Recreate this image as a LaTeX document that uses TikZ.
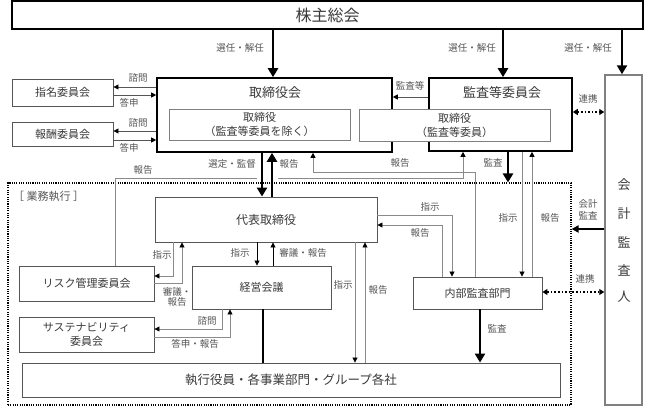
\documentclass[tikz,border=0pt]{standalone}
\usepackage{fontspec}
\setmainfont{Noto Sans CJK JP}
\usetikzlibrary{arrows.meta}
\definecolor{txt}{HTML}{3A3A3A}
\definecolor{lblc}{HTML}{555555}
\definecolor{boxc}{HTML}{555555}
\definecolor{inc}{HTML}{808080}
\definecolor{linec}{HTML}{8A8A8A}
\begin{document}
\begin{tikzpicture}[x=1pt,y=-1pt,
  box/.style={draw=boxc, line width=0.9pt, fill=white, inner sep=0pt, text=txt,
    font=\fontsize{11}{14}\selectfont, align=center},
  board/.style={box, draw=black, line width=1.6pt},
  inbox/.style={box, draw=inc, line width=0.8pt},
  lbl/.style={text=lblc, font=\fontsize{9.5}{11.5}\selectfont, inner sep=0pt, align=center},
  thin/.style={draw=linec, line width=0.8pt, -{Triangle[length=5pt,width=5pt,color=black]}},
  thk/.style={draw=black, line width=2.6pt, -{Triangle[length=9pt,width=10pt]}},
  dotarr/.style={draw=black, line width=1.6pt, dash pattern=on 1.6pt off 2pt,
    {Triangle[length=5pt,width=6pt]}-{Triangle[length=5pt,width=6pt]}}
]
\useasboundingbox[fill=white] (0,0) rectangle (645,407);

% frame
\node[draw=black, line width=1.1pt, dash pattern=on 1.1pt off 1.2pt, minimum width=563pt, minimum height=222pt, inner sep=0pt] (gy) at (289.5,294) {};
\node[lbl, font=\fontsize{11}{13}\selectfont, anchor=west] (lgy) at (13,196) {［ 業務執行 ］};

% boxes
\node[board, minimum width=631pt, minimum height=28pt, font=\fontsize{16}{18}\selectfont] (sh) at (327.5,15) {株主総会};
\node[board, minimum width=235pt, minimum height=74pt] (tb) at (274.5,115) {};
\node[board, minimum width=143pt, minimum height=73pt] (ak) at (500.5,114.5) {};
\node[text=txt, font=\fontsize{13}{15}\selectfont, inner sep=0pt] (tbt) at (275,93) {取締役会};
\node[text=txt, font=\fontsize{13}{15}\selectfont, inner sep=0pt] (akt) at (502,93) {監査等委員会};
\node[inbox, minimum width=181pt, minimum height=31pt] (tbin) at (259.5,124.5) {取締役\\（監査等委員を除く）};
\node[inbox, minimum width=191pt, minimum height=32pt] (akin) at (454.5,125) {取締役\\（監査等委員）};
\node[box, minimum width=101pt, minimum height=27pt] (sm) at (62.5,92.5) {指名委員会};
\node[box, minimum width=101pt, minimum height=24pt] (hs) at (62.5,134) {報酬委員会};
\node[box, draw=inc, line width=1.5pt, minimum width=37pt, minimum height=330pt] (kk) at (623.5,240) {};
\foreach \c/\yy [count=\i] in {会/185,計/214,監/242,査/270,人/297}
  \node[text=txt, font=\fontsize{13}{15}\selectfont, inner sep=0pt] (kkc\i) at (624,\yy) {\c};
\node[box, minimum width=222pt, minimum height=45pt, font=\fontsize{12}{14}\selectfont] (dh) at (266,219.5) {代表取締役};
\node[box, minimum width=129pt, minimum height=32pt] (ia) at (477.5,293) {内部監査部門};
\node[box, minimum width=139pt, minimum height=43pt] (km) at (261.5,287.5) {経営会議};
\node[box, minimum width=135pt, minimum height=35pt] (risk) at (86.5,283.5) {リスク管理委員会};
\node[box, minimum width=135pt, minimum height=35pt] (sus) at (86.5,334.5) {サステナビリティ\\委員会};
\node[box, minimum width=538pt, minimum height=34pt, font=\fontsize{12.5}{14}\selectfont] (ex) at (291,380) {執行役員・各事業部門・グループ各社};

% shareholders
\draw[thk] (sh.south -| 273,0) -- (tb.north -| 273,0);
\draw[thk] (sh.south -| 503,0) -- (ak.north -| 503,0);
\draw[thk] (sh.south -| 622,0) -- (kk.north -| 622,0);
\node[lbl] (l1) at (240,48) {選任・解任};
\node[lbl] (l2) at (472,48) {選任・解任};
\node[lbl] (l3) at (588,48) {選任・解任};

% committees
\draw[thin, draw=boxc] (tb.west |- 0,87) -- (sm.east |- 0,87);
\draw[thin, draw=boxc] (sm.east |- 0,95) -- (tb.west |- 0,95);
\draw[thin, draw=boxc] (tb.west |- 0,131) -- (hs.east |- 0,131);
\draw[thin, draw=boxc] (hs.east |- 0,140) -- (tb.west |- 0,140);
\node[lbl] (l4) at (138,78) {諮問};
\node[lbl] (l5) at (129,103) {答申};
\node[lbl] (l6) at (138,123) {諮問};
\node[lbl] (l7) at (129,148) {答申};

\draw[thin, draw=boxc] (ak.west |- 0,97) -- (tb.east |- 0,97);
\node[lbl] (l8) at (410,86) {監査等};

\draw[dotarr] (ak.east |- 0,112) -- (kk.west |- 0,112);
\node[lbl] (l9) at (588,99) {連携};

% report lines
\coordinate (g1) at (257,178);
\coordinate (g2) at (278,178);
\draw[draw=linec, line width=0.8pt] (risk.north -| 115,0) |- (g1);
\draw[thin] (g2) -| (ak.south -| 463,0);
\draw[thin] (ia.north -| 475,0) |- (313,172) -- (tb.south -| 313,0);
\node[lbl] (l10) at (143,170) {報告};
\node[lbl] (l11) at (400,163) {報告};

% board <-> representative
\draw[thk] (tb.south -| 262,0) -- (dh.north -| 262,0);
\draw[thk] (dh.north -| 272,0) -- (tb.south -| 272,0);
\node[lbl] (l12) at (232,164) {選定・監督};
\node[lbl] (l13) at (289,164) {報告};

% audit committee
\draw[thk] (ak.south -| 508,0) -- (gy.north -| 508,0);
\node[lbl] (l14) at (493,163) {監査};
\draw[thin] (ak.south -| 522,0) -- (ia.north -| 522,0);
\draw[thin] (ia.north -| 532,0) -- (ak.south -| 532,0);
\node[lbl] (l15) at (508,218) {指示};
\node[lbl] (l16) at (550,218) {報告};

% accounting auditor
\draw[thk, line width=2pt, -{Triangle[length=7pt,width=7pt]}] (kk.west |- 0,229) -- (gy.east |- 0,229);
\node[lbl] (l17) at (588,210) {会計\\監査};
\draw[dotarr] (ia.east |- 0,292) -- (kk.west |- 0,292);
\node[lbl] (l18) at (585,279) {連携};

% representative <-> internal audit
\draw[thin] (dh.east |- 0,215) -| (ia.north -| 452,0);
\draw[thin] (ia.north -| 442,0) |- (dh.east |- 0,225);
\node[lbl] (l19) at (430,207) {指示};
\node[lbl] (l20) at (420,233) {報告};

% representative <-> executives
\draw[thin] (dh.south -| 355,0) -- (ex.north -| 355,0);
\draw[thin] (ex.north -| 365,0) -- (dh.south -| 365,0);
\node[lbl] (l21) at (343,285) {指示};
\node[lbl] (l22) at (378,290) {報告};

% representative <-> management meeting
\draw[thin, draw=black] (dh.south -| 257,0) -- (km.north -| 257,0);
\draw[thin, draw=black] (km.north -| 273,0) -- (dh.south -| 273,0);
\node[lbl] (l23) at (240,253) {指示};
\node[lbl] (l24) at (303,253) {審議・報告};

% representative <-> risk
\draw[thin] (dh.south -| 173,0) |- (risk.east |- 0,276);
\draw[thin] (risk.east |- 0,283) -| (dh.south -| 182,0);
\node[lbl] (l25) at (162,255) {指示};
\node[lbl, font=\fontsize{9.5}{10.5}\selectfont] (l26) at (177,297) {審議・\\報告};

% management meeting <-> sustainability
\draw[thin] (km.south -| 222,0) |- (sus.east |- 0,329);
\draw[thin] (sus.east |- 0,337) -| (km.south -| 230,0);
\node[lbl] (l27) at (207,321) {諮問};
\node[lbl] (l28) at (195,344) {答申・報告};

% management meeting -- executives
\draw[draw=black, line width=2pt] (km.south -| 263,0) -- (ex.north -| 263,0);

% internal audit -> executives
\draw[thk] (ia.south -| 480,0) -- (ex.north -| 480,0);
\node[lbl] (l29) at (497,329) {監査};
\end{tikzpicture}
\end{document}
